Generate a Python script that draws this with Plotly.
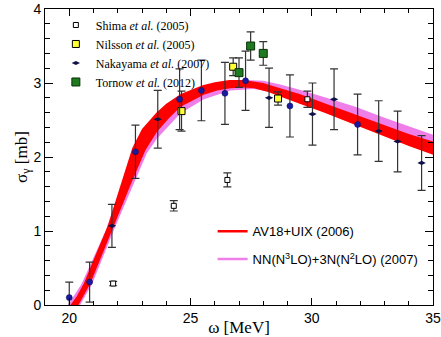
import plotly.graph_objects as go

# ---------------- data ----------------
# Theory band AV18+UIX (2006): upper and lower edges
red_top_x = [20.05, 20.3, 20.6, 21.0, 21.6, 22.0, 22.6, 23.0, 23.6, 24.0, 24.6, 25.5, 26.0, 26.6, 27.2, 27.6, 28.0, 28.7, 29.5, 30.5, 31.8, 33.0, 34.0, 35.0]
red_top_y = [0.0, 0.11, 0.29, 0.60, 1.08, 1.50, 2.12, 2.38, 2.60, 2.72, 2.85, 2.97, 3.01, 3.04, 3.04, 3.02, 3.00, 2.93, 2.85, 2.73, 2.57, 2.43, 2.31, 2.21]
red_bot_x = [20.38, 20.87, 21.3, 21.83, 22.5, 23.14, 23.62, 24.1, 24.59, 25.55, 26.1, 26.65, 27.2, 27.62, 28.2, 28.72, 29.5, 30.5, 31.82, 33.0, 34.0, 35.0]
red_bot_y = [0.0, 0.29, 0.62, 1.06, 1.60, 2.09, 2.34, 2.52, 2.68, 2.84, 2.90, 2.93, 2.94, 2.93, 2.88, 2.81, 2.72, 2.60, 2.43, 2.28, 2.15, 2.03]

# Theory band NN(N3LO)+3N(N2LO) (2007)
pink_top_x = [19.95, 20.5, 21.5, 22.6, 23.6, 24.6, 25.5, 26.6, 27.2, 27.6, 28.0, 28.7, 29.5, 30.5, 31.8, 33.0, 34.0, 35.0]
pink_top_y = [0.0, 0.28, 1.00, 2.05, 2.55, 2.80, 2.94, 3.02, 3.04, 3.04, 3.03, 2.98, 2.91, 2.81, 2.68, 2.53, 2.41, 2.30]
pink_bot_x = [20.45, 20.95, 21.9, 23.2, 23.62, 24.59, 25.55, 26.65, 27.6, 28.7, 29.5, 30.5, 31.8, 33.0, 34.0, 35.0]
pink_bot_y = [0.0, 0.29, 1.06, 2.05, 2.25, 2.59, 2.78, 2.90, 2.92, 2.86, 2.77, 2.66, 2.50, 2.35, 2.22, 2.10]

# Nakayama et al. (2007) – small markers
nak_x = [21.76, 23.65, 28.24, 30.03, 30.92, 32.76, 33.54, 34.53]
nak_y = [1.07, 2.51, 2.80, 2.58, 2.78, 2.35, 2.21, 1.92]
nak_e = [0.29, 0.39, 0.40, 0.42, 0.41, 0.41, 0.41, 0.37]

# blue circle points
blue_x = [20.0, 20.84, 22.73, 24.55, 25.45, 26.42, 27.27, 29.10, 31.89]
blue_y = [0.10, 0.31, 2.07, 2.78, 2.90, 2.86, 3.03, 2.69, 2.44]
blue_e = [0.21, 0.27, 0.36, 0.41, 0.41, 0.42, 0.40, 0.42, 0.41]

# Shima et al. (2005)
shima_x = [21.81, 24.31, 26.52, 29.82]
shima_y = [0.29, 1.34, 1.69, 2.78]
shima_e = [0.03, 0.07, 0.095, 0.11]

# Nilsson et al. (2005)
nil_x = [24.63, 26.76, 28.61]
nil_y = [2.62, 3.22, 2.79]
nil_e = [0.27, 0.12, 0.09]

# Tornow et al. (2012)
tor_x = [27.0, 27.48, 28.0]
tor_y = [3.14, 3.50, 3.40]
tor_e = [0.20, 0.19, 0.16]

RED = "#ff0000"
PINK = "#f07ee8"
SERIF = "Liberation Serif, Times New Roman, serif"
SANS = "Liberation Sans, Arial, sans-serif"

fig = go.Figure()

# bands
fig.add_trace(go.Scatter(x=pink_top_x + pink_bot_x[::-1], y=pink_top_y + pink_bot_y[::-1],
                         fill="toself", fillcolor=PINK, line=dict(width=0), mode="lines",
                         showlegend=False, hoverinfo="skip"))
fig.add_trace(go.Scatter(x=red_top_x + red_bot_x[::-1], y=red_top_y + red_bot_y[::-1],
                         fill="toself", fillcolor=RED, line=dict(width=0), mode="lines",
                         showlegend=False, hoverinfo="skip"))

EB = dict(type="data", thickness=1.2, width=4, color="#333333")

def err(e):
    d = dict(EB)
    d["array"] = e
    return d

fig.add_trace(go.Scatter(x=shima_x, y=shima_y, error_y=err(shima_e), mode="markers",
                         marker=dict(symbol="square", size=5, color="white", line=dict(color="black", width=1)),
                         name="Shima <i>et al.</i> (2005)", legend="legend"))
fig.add_trace(go.Scatter(x=nil_x, y=nil_y, error_y=err(nil_e), mode="markers",
                         marker=dict(symbol="square", size=7, color="#ffff33", line=dict(color="black", width=1)),
                         name="Nilsson <i>et al.</i> (2005)", legend="legend"))
fig.add_trace(go.Scatter(x=nak_x, y=nak_y, error_y=err(nak_e), mode="markers",
                         marker=dict(symbol="diamond-wide", size=6, color="#10104a", line=dict(width=0)),
                         name="Nakayama <i>et al.</i> (2007)", legend="legend"))
fig.add_trace(go.Scatter(x=blue_x, y=blue_y, error_y=err(blue_e), mode="markers",
                         marker=dict(symbol="circle", size=6, color="#1a1aa0", line=dict(color="#0a0a50", width=0.5)),
                         showlegend=False))
fig.add_trace(go.Scatter(x=tor_x, y=tor_y, error_y=err(tor_e), mode="markers",
                         marker=dict(symbol="square", size=8, color="#1e7a1e", line=dict(color="#0a300a", width=1)),
                         name="Tornow <i>et al.</i> (2012)", legend="legend"))

# legend entries for theory bands
fig.add_trace(go.Scatter(x=[None], y=[None], mode="lines", line=dict(color=RED, width=2.5),
                         name="AV18+UIX (2006)", legend="legend2", legendgroup="a"))
fig.add_trace(go.Scatter(x=[None], y=[None], mode="lines", line=dict(color=PINK, width=2.5),
                         name="NN(N<sup>3</sup>LO)+3N(N<sup>2</sup>LO) (2007)", legend="legend2", legendgroup="b"))

axis_common = dict(showline=True, linecolor="black", linewidth=1, mirror="allticks",
                   ticks="inside", tickcolor="black", showgrid=False, zeroline=False,
                   automargin=False,
                   tickfont=dict(family=SANS, size=14, color="black"))

fig.update_layout(
    width=441, height=337, autosize=False,
    margin=dict(l=45, r=8, t=9, b=32, pad=0),
    paper_bgcolor="white", plot_bgcolor="white",
    xaxis=dict(range=[19, 35], tick0=20, dtick=5, ticklen=7,
               minor=dict(dtick=1, tick0=20, ticklen=4, ticks="inside", tickcolor="black"),
               title=dict(text="ω [MeV]", font=dict(family=SERIF, size=17, color="black"), standoff=0),
               **axis_common),
    yaxis=dict(range=[0, 4], tick0=0, dtick=1, ticklen=8,
               minor=dict(dtick=0.2, ticklen=5, ticks="inside", tickcolor="black"),
               title=dict(text="σ<sub>γ</sub> [mb]", font=dict(family=SERIF, size=17, color="black"), standoff=0),
               **axis_common),
    legend=dict(x=0.028, y=0.995, xanchor="left", yanchor="top", bgcolor="rgba(0,0,0,0)",
                font=dict(family=SERIF, size=12, color="black"), itemwidth=30, tracegroupgap=0),
    legend2=dict(x=0.432, y=0.30, xanchor="left", yanchor="top", bgcolor="rgba(0,0,0,0)",
                 font=dict(family=SANS, size=13, color="black"), itemwidth=30, tracegroupgap=8),
    showlegend=True,
)

fig.write_html("out.html", config={"displayModeBar": False},
               post_script="document.body.style.margin='0';document.body.style.overflow='hidden';")
